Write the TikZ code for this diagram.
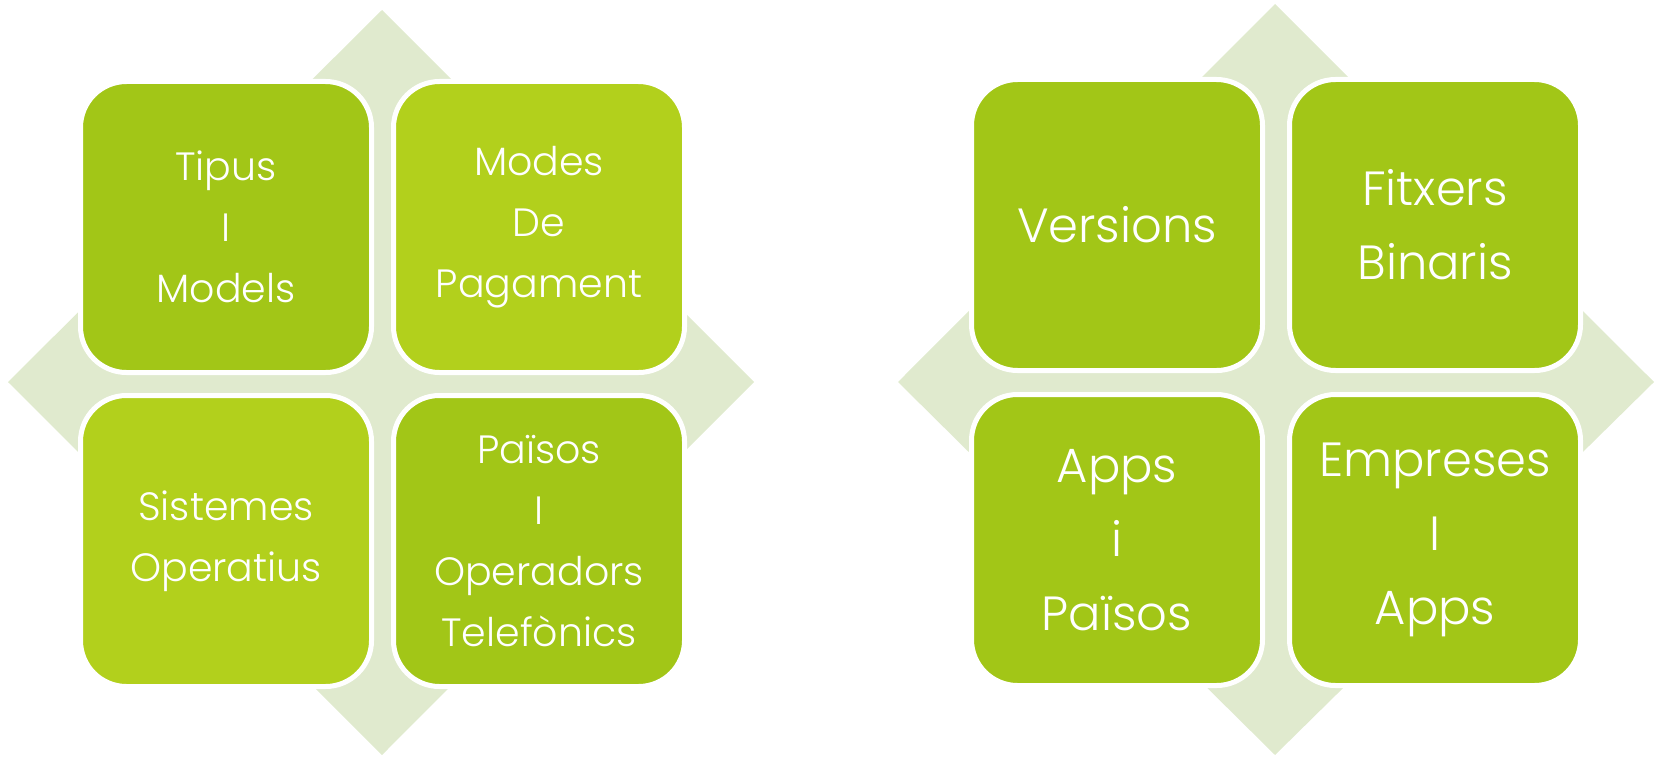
\documentclass[tikz,border=0pt]{standalone}
\usepackage{fontspec}
\IfFontExistsTF{Poppins Light}{\setmainfont{Poppins Light}}{\setmainfont{Poppins}}
\usetikzlibrary{shapes}
\definecolor{tilegreen}{RGB}{162,198,23}
\definecolor{tilelime}{RGB}{178,208,28}
\definecolor{diamondbg}{RGB}{224,234,206}

\begin{document}
\begin{tikzpicture}[x=1pt,y=-1pt,
  tile/.style={draw=white,line width=5pt,rounded corners=46pt,inner sep=0pt,
    minimum width=291pt,minimum height=291pt,align=center,text=white},
  smalltxt/.style={font=\fontsize{39.5}{61}\selectfont},
  bigtxt/.style={font=\fontsize{48}{74}\selectfont}]
  \useasboundingbox (0,0) rectangle (1661,757);

  % left matrix
  \fill [diamondbg] (382,10) -- (754,382) -- (382,755) -- (8,382) -- cycle;
  \node (tipus)   [tile,smalltxt,fill=tilegreen] at (226,227) {Tipus\\I\\Models};
  \node (modes)   [tile,smalltxt,fill=tilelime]  at (539,227) {Modes\\De\\Pagament};
  \node (sistemes)[tile,smalltxt,fill=tilelime]  at (226,541) {Sistemes\\Operatius};
  \node (paisos)  [tile,smalltxt,fill=tilegreen] at (539,541) {Països\\I\\Operadors\\Telefònics};

  % right matrix
  \fill [diamondbg] (1275,4) -- (1654,382) -- (1275,755) -- (898,382) -- cycle;
  \node (versions)[tile,bigtxt,fill=tilegreen] at (1117,225) {Versions};
  \node (fitxers) [tile,bigtxt,fill=tilegreen] at (1435,225) {Fitxers\\Binaris};
  \node (apps)    [tile,bigtxt,fill=tilegreen] at (1117,540) {Apps\\i\\Països};
  \node (empreses)[tile,bigtxt,fill=tilegreen] at (1435,540) {Empreses\\I\\Apps};
\end{tikzpicture}
\end{document}
